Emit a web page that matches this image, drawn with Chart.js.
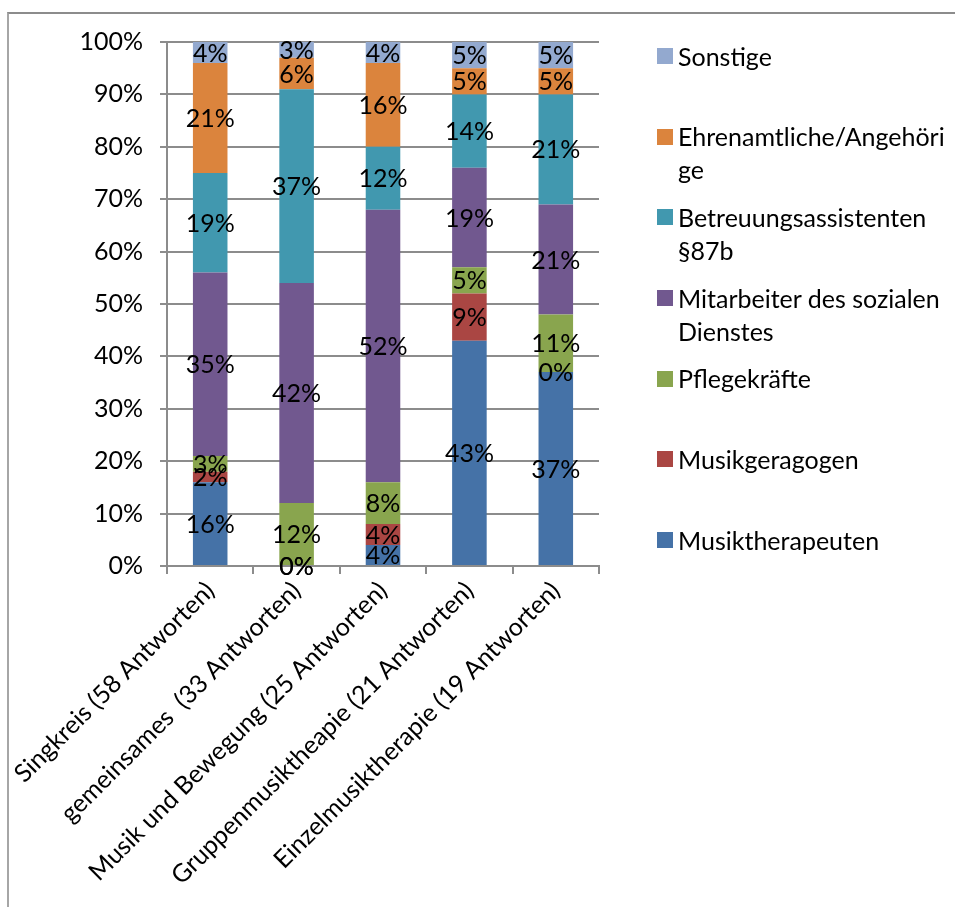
<!DOCTYPE html>
<html>
<head>
<meta charset="utf-8">
<script src="https://cdn.jsdelivr.net/npm/chart.js@4"></script>
<style>
  html, body { margin: 0; padding: 0; background: #fff; }
  #wrap { position: relative; width: 955px; height: 907px; overflow: hidden; }
  #frame { position: absolute; left: 7px; top: 12px; width: 2000px; height: 2000px;
           border-left: 2px solid #a6a6a6; border-top: 2px solid #8c8c8c; box-sizing: border-box; }
  #c { position: absolute; left: 0; top: 0; }
  #legend { position: absolute; left: 0; top: 0; font-family: Lato, "Noto Sans", sans-serif; font-size: 25px; color: #000; }
  .lg-item { position: absolute; left: 657px; }
  .lg-box { position: absolute; left: 0; width: 16px; height: 16px; }
  .lg-text { position: absolute; left: 21px; white-space: nowrap; line-height: 33px; }
</style>
</head>
<body>
<div id="wrap">
  <div id="frame"></div>
  <canvas id="c" width="955" height="907"></canvas>
  <div id="legend"></div>
</div>
<script>
// Kategorien (Angebote) und Anteile der Berufsgruppen in Prozent
const categories = [
  "Singkreis (58 Antworten)",
  "gemeinsames  (33 Antworten)",
  "Musik und Bewegung (25 Antworten)",
  "Gruppenmusiktheapie (21 Antworten)",
  "Einzelmusiktherapie (19 Antworten)"
];
const musiktherapeuten = [16, 0, 4, 43, 37];
const musikgeragogen   = [2, 0, 4, 9, 0];
const pflegekraefte    = [3, 12, 8, 5, 11];
const mitarbeiter      = [35, 42, 52, 19, 21];
const betreuung        = [19, 37, 12, 14, 21];
const ehrenamtliche    = [21, 6, 16, 5, 5];
const sonstige         = [4, 3, 4, 5, 5];
const yTicks = [0, 10, 20, 30, 40, 50, 60, 70, 80, 90, 100];

const FONT = { family: "Lato, 'Noto Sans', sans-serif", size: 25 };
const GRID = '#8c8c8c';

function ds(label, data, color) {
  return { label, data, backgroundColor: color, borderWidth: 0,
           barPercentage: 0.4, categoryPercentage: 1.0 };
}

// Prozentwerte mittig in jedes Segment schreiben
const segmentLabels = {
  id: 'segmentLabels',
  afterDatasetsDraw(chart) {
    const ctx = chart.ctx;
    ctx.save();
    ctx.font = `${FONT.size}px ${FONT.family}`;
    ctx.fillStyle = '#000';
    ctx.textAlign = 'center';
    ctx.textBaseline = 'middle';
    chart.data.datasets.forEach((d, i) => {
      const meta = chart.getDatasetMeta(i);
      meta.data.forEach((el, j) => {
        const y = (el.y + el.base) / 2;
        ctx.fillText(d.data[j] + '%', el.x, y + 1);
      });
    });
    ctx.restore();
  }
};

// Legende rechts, in umgekehrter Reihenfolge, mit Zeilenumbruch
const sideLegend = {
  id: 'sideLegend',
  afterUpdate(chart) {
    const box = document.getElementById('legend');
    box.innerHTML = '';
    const items = Chart.defaults.plugins.legend.labels.generateLabels(chart).slice().reverse();
    const mctx = document.createElement('canvas').getContext('2d');
    mctx.font = `${FONT.size}px ${FONT.family}`;
    const maxW = 272;
    const wrap = (text) => {
      const lines = [];
      let cur = '';
      text.split(' ').forEach(word => {
        const trial = cur ? cur + ' ' + word : word;
        if (mctx.measureText(trial).width <= maxW) { cur = trial; return; }
        if (cur) { lines.push(cur); cur = ''; }
        let w = word;
        while (mctx.measureText(w).width > maxW) {
          let k = w.length;
          while (k > 1 && mctx.measureText(w.slice(0, k)).width > maxW) k--;
          lines.push(w.slice(0, k));
          w = w.slice(k);
        }
        cur = w;
      });
      if (cur) lines.push(cur);
      return lines;
    };
    items.forEach((it, i) => {
      const cy = 56 + i * 80.67;
      const el = document.createElement('div');
      el.className = 'lg-item';
      el.style.top = (cy - 16.5) + 'px';
      const sq = document.createElement('div');
      sq.className = 'lg-box';
      sq.style.background = it.fillStyle;
      sq.style.top = '8.5px';
      const tx = document.createElement('div');
      tx.className = 'lg-text';
      tx.innerHTML = wrap(it.text).map(s => s.replace(/&/g, '&amp;').replace(/</g, '&lt;')).join('<br>');
      el.appendChild(sq);
      el.appendChild(tx);
      box.appendChild(el);
    });
  }
};

new Chart(document.getElementById('c'), {
  type: 'bar',
  data: {
    labels: categories,
    datasets: [
      ds('Musiktherapeuten', musiktherapeuten, '#4572A7'),
      ds('Musikgeragogen', musikgeragogen, '#AA4643'),
      ds('Pflegekräfte', pflegekraefte, '#89A54E'),
      ds('Mitarbeiter des sozialen Dienstes', mitarbeiter, '#71588F'),
      ds('Betreuungsassistenten §87b', betreuung, '#4198AF'),
      ds('Ehrenamtliche/Angehörige', ehrenamtliche, '#DB843D'),
      ds('Sonstige', sonstige, '#93A9CF')
    ]
  },
  options: {
    responsive: false,
    animation: false,
    layout: { padding: { top: 42, right: 356, bottom: 0, left: 0 } },
    plugins: { legend: { display: false }, tooltip: { enabled: false } },
    scales: {
      x: {
        stacked: true,
        grid: { offset: true, drawOnChartArea: false, color: GRID, lineWidth: 2, tickLength: 8 },
        border: { color: GRID, width: 2 },
        ticks: { font: FONT, color: '#000', minRotation: 45, maxRotation: 45, autoSkip: false, padding: 2 },
        afterFit(s) { s.height = 341; }
      },
      y: {
        stacked: true,
        min: 0, max: 100,
        afterBuildTicks(s) { s.ticks = yTicks.map(v => ({ value: v })); },
        ticks: { font: FONT, color: '#000', padding: 17, callback: v => v + '%' },
        grid: { color: GRID, lineWidth: 2, tickLength: 7 },
        border: { color: GRID, width: 2 },
        afterFit(s) { s.width = 167; }
      }
    }
  },
  plugins: [segmentLabels, sideLegend]
});
</script>
</body>
</html>
